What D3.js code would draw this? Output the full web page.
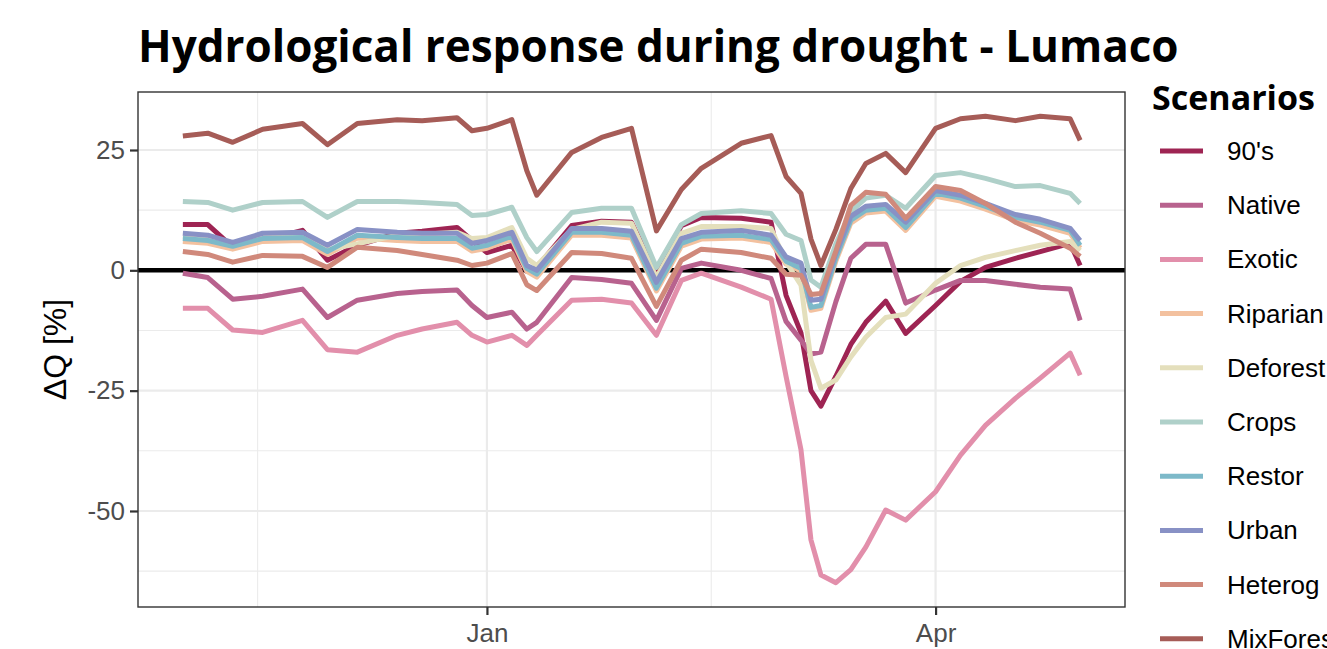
<!DOCTYPE html>
<html>
<head>
<meta charset="utf-8">
<script src="https://cdn.jsdelivr.net/npm/d3@7"></script>
<style>
  body { margin: 0; background: #fff; }
  svg { display: block; }
</style>
</head>
<body>
<svg id="chart" width="1327" height="649"></svg>
<script>
// ── data ─────────────────────────────────────────────────────────────────────
const dates = [
  '2020-11-01', '2020-11-06', '2020-11-11', '2020-11-17', '2020-11-25', '2020-11-30',
  '2020-12-06', '2020-12-14', '2020-12-19', '2020-12-26', '2020-12-29', '2021-01-01',
  '2021-01-06', '2021-01-09', '2021-01-11', '2021-01-18', '2021-01-24', '2021-01-30',
  '2021-02-04', '2021-02-09', '2021-02-13', '2021-02-21', '2021-02-27', '2021-03-02',
  '2021-03-05', '2021-03-07', '2021-03-09', '2021-03-12', '2021-03-15', '2021-03-18',
  '2021-03-22', '2021-03-26', '2021-04-01', '2021-04-06', '2021-04-11', '2021-04-17',
  '2021-04-22', '2021-04-28', '2021-04-30'
];

const scenarios = ["90's", 'Native', 'Exotic', 'Riparian', 'Deforest', 'Crops', 'Restor', 'Urban', 'Heterog', 'MixForest'];

const nineties = [9.5, 9.5, 4.8, 6.2, 8.3, 2.1, 5.2, 7.7, 8.1, 8.9, 6.2, 3.7, 5.2, -0.2, 0.6, 9.3, 10.2, 10.0, -1.0, 9.3, 11.0, 10.8, 10.0, -5.2, -13.0, -25.0, -28.2, -22.0, -15.4, -10.8, -6.4, -13.1, -7.3, -2.3, 0.6, 2.5, 3.9, 5.6, 1.0];
const native = [-0.6, -1.5, -6.0, -5.4, -3.9, -9.8, -6.2, -4.8, -4.4, -4.1, -7.3, -9.8, -8.7, -12.2, -10.8, -1.5, -1.9, -2.7, -10.4, 0.4, 1.5, 0.0, -1.7, -10.6, -14.5, -17.4, -17.0, -6.5, 2.5, 5.4, 5.4, -6.8, -4.1, -2.1, -2.1, -2.9, -3.5, -3.9, -10.4];
const exotic = [-7.9, -7.9, -12.4, -12.9, -10.4, -16.5, -17.0, -13.5, -12.2, -10.8, -13.5, -14.9, -13.5, -15.6, -13.5, -6.2, -6.0, -6.8, -13.5, -2.1, -0.6, -3.5, -6.0, -22.0, -37.3, -56.0, -63.3, -64.9, -62.2, -57.5, -49.8, -51.9, -46.0, -38.4, -32.2, -26.6, -22.4, -17.2, -21.8];
const riparian = [6.0, 5.6, 4.4, 6.0, 6.2, 3.3, 6.7, 6.2, 6.0, 6.0, 4.0, 4.6, 6.5, -0.2, -1.4, 7.3, 7.3, 6.7, -4.3, 5.0, 6.5, 6.7, 5.8, 1.3, -0.2, -8.3, -7.9, 1.9, 9.8, 11.9, 12.3, 8.3, 15.4, 14.4, 12.7, 10.4, 9.4, 7.7, 4.6];
const deforest = [7.1, 6.6, 5.4, 7.0, 7.3, 4.3, 5.5, 7.3, 7.5, 7.9, 6.6, 6.8, 8.9, 2.5, 1.0, 8.5, 10.0, 9.8, -1.5, 7.7, 9.1, 9.1, 8.7, 1.7, -3.1, -18.7, -24.5, -22.8, -18.0, -13.9, -9.8, -9.1, -2.7, 1.0, 2.7, 4.1, 5.2, 6.0, 4.1];
const crops = [14.3, 14.1, 12.5, 14.1, 14.3, 11.0, 14.3, 14.3, 14.1, 13.7, 11.4, 11.6, 13.1, 6.8, 3.9, 12.0, 12.9, 12.9, 0.6, 9.5, 11.8, 12.4, 11.8, 7.5, 6.2, -2.0, -3.5, 5.5, 12.2, 15.0, 15.6, 12.9, 19.7, 20.3, 19.1, 17.4, 17.6, 16.0, 13.9];
const restor = [6.6, 6.2, 5.0, 6.6, 6.8, 3.9, 7.3, 6.8, 6.6, 6.6, 4.6, 5.2, 7.1, 0.4, -0.8, 7.9, 7.9, 7.3, -3.7, 5.6, 7.1, 7.3, 6.4, 1.9, 0.4, -7.7, -7.3, 2.5, 10.4, 12.5, 12.9, 8.9, 16.0, 15.0, 13.3, 11.0, 10.0, 8.3, 5.2];
const urban = [7.7, 7.3, 5.8, 7.7, 7.9, 5.2, 8.5, 7.9, 7.7, 7.7, 5.6, 6.2, 7.9, 1.0, 0.0, 8.7, 8.7, 8.1, -2.5, 6.6, 7.9, 8.3, 7.3, 2.8, 1.5, -6.2, -6.0, 3.5, 11.2, 13.3, 13.7, 10.0, 16.6, 15.6, 13.9, 11.6, 10.6, 8.7, 6.2];
const heterog = [3.9, 3.3, 1.7, 3.1, 2.9, 0.6, 4.8, 4.1, 3.3, 2.1, 1.0, 1.5, 3.5, -3.0, -4.2, 3.7, 3.5, 2.5, -7.5, 2.1, 4.4, 3.7, 2.5, -0.8, -1.0, -5.0, -4.8, 4.0, 13.5, 16.2, 15.8, 10.8, 17.4, 16.6, 13.9, 10.0, 7.7, 4.6, 2.9];
const mixForest = [27.9, 28.5, 26.6, 29.3, 30.5, 26.1, 30.5, 31.3, 31.1, 31.7, 29.0, 29.5, 31.3, 20.7, 15.6, 24.5, 27.6, 29.5, 8.2, 16.8, 21.2, 26.4, 28.0, 19.5, 16.0, 6.5, 1.0, 8.5, 17.0, 22.2, 24.3, 20.3, 29.5, 31.5, 32.0, 31.1, 32.0, 31.5, 27.0];

const seriesValues = [nineties, native, exotic, riparian, deforest, crops, restor, urban, heterog, mixForest];

const yTicks = [-50, -25, 0, 25];
const yMinor = [-62.5, -37.5, -12.5, 12.5];
const xTicks = ['2021-01-01', '2021-04-01'];

// ── styling ─────────────────────────────────────────────────────────────────
const COLORS = ['#9e2453', '#b8628e', '#e28fab', '#f3c19f', '#e4dfbc', '#afd0c9', '#7db9c9', '#8891c5', '#d0897b', '#a65c57'];
const PANEL = { left: 138, right: 1125, top: 92, bottom: 607 };
const SANS = "'Liberation Sans', Arial, sans-serif";
const BOLD = "'Open Sans', 'DejaVu Sans', sans-serif";
const LINE_W = 5;

// ────────────────────────────────────────────────────────────────────────────

const parse = d3.timeParse('%Y-%m-%d');
const parsed = dates.map(parse);
const svg = d3.select('#chart');

const x = d3.scaleTime()
  .domain([d3.timeDay.offset(parsed[0], -9), d3.timeDay.offset(parsed[parsed.length - 1], 9)])
  .range([PANEL.left, PANEL.right]);

const y = d3.scaleLinear()
  .domain([-69.95, 37.05])
  .range([PANEL.bottom, PANEL.top]);

const majorX = xTicks.map(parse);
// ggplot minor breaks sit halfway between the major ones (Oct 1 / Jan 1 / Apr 1)
const allMajor = [parse('2020-10-01'), ...majorX];
const minorX = d3.pairs(allMajor, (a, b) => new Date((+a + +b) / 2));

// Grid
const grid = svg.append('g');
grid.selectAll('.ymin').data(yMinor).join('line')
  .attr('x1', PANEL.left).attr('x2', PANEL.right)
  .attr('y1', d => y(d)).attr('y2', d => y(d))
  .attr('stroke', '#ebebeb').attr('stroke-width', 1.1);
grid.selectAll('.xmin').data(minorX).join('line')
  .attr('x1', d => x(d)).attr('x2', d => x(d))
  .attr('y1', PANEL.top).attr('y2', PANEL.bottom)
  .attr('stroke', '#ebebeb').attr('stroke-width', 1.1);
grid.selectAll('.ymaj').data(yTicks).join('line')
  .attr('x1', PANEL.left).attr('x2', PANEL.right)
  .attr('y1', d => y(d)).attr('y2', d => y(d))
  .attr('stroke', '#ebebeb').attr('stroke-width', 2.2);
grid.selectAll('.xmaj').data(majorX).join('line')
  .attr('x1', d => x(d)).attr('x2', d => x(d))
  .attr('y1', PANEL.top).attr('y2', PANEL.bottom)
  .attr('stroke', '#ebebeb').attr('stroke-width', 2.2);

// Zero reference line
svg.append('line')
  .attr('x1', PANEL.left).attr('x2', PANEL.right)
  .attr('y1', y(0)).attr('y2', y(0))
  .attr('stroke', '#000').attr('stroke-width', 4.6);

// Series lines, drawn in factor order so MixForest ends up on top
const line = d3.line()
  .x((d, i) => x(parsed[i]))
  .y(d => y(d));

svg.append('g')
  .selectAll('path')
  .data(seriesValues)
  .join('path')
  .attr('d', d => line(d))
  .attr('fill', 'none')
  .attr('stroke', (d, i) => COLORS[i])
  .attr('stroke-width', LINE_W)
  .attr('stroke-linejoin', 'round')
  .attr('stroke-linecap', 'butt');

// Panel border
svg.append('rect')
  .attr('x', PANEL.left).attr('y', PANEL.top)
  .attr('width', PANEL.right - PANEL.left).attr('height', PANEL.bottom - PANEL.top)
  .attr('fill', 'none').attr('stroke', '#333333').attr('stroke-width', 1.4);

// Axes
const yAxis = svg.append('g')
  .attr('transform', `translate(${PANEL.left},0)`)
  .call(d3.axisLeft(y).tickValues(yTicks).tickFormat(d => String(d)).tickSize(8).tickPadding(5));
const xAxis = svg.append('g')
  .attr('transform', `translate(0,${PANEL.bottom})`)
  .call(d3.axisBottom(x).tickValues(majorX).tickFormat(d3.timeFormat('%b')).tickSize(8).tickPadding(9));

for (const ax of [yAxis, xAxis]) {
  ax.select('.domain').remove();
  ax.selectAll('.tick line').attr('stroke', '#333333').attr('stroke-width', 2.2);
  ax.selectAll('.tick text')
    .attr('fill', '#4d4d4d')
    .style('font-family', SANS)
    .style('font-size', '26px');
}

// Axis title
svg.append('text')
  .attr('transform', `translate(66,${(PANEL.top + PANEL.bottom) / 2}) rotate(-90)`)
  .attr('text-anchor', 'middle')
  .style('font-family', SANS)
  .style('font-size', '32px')
  .text('ΔQ [%]');

// Title
svg.append('text')
  .attr('x', PANEL.left).attr('y', 62)
  .style('font-family', BOLD)
  .style('font-weight', 700)
  .style('font-size', '44px')
  .text('Hydrological response during drought - Lumaco');

// Legend
const legend = svg.append('g');
legend.append('text')
  .attr('x', 1152).attr('y', 110)
  .style('font-family', BOLD)
  .style('font-weight', 700)
  .style('font-size', '34px')
  .text('Scenarios');

const item = legend.selectAll('.item')
  .data(scenarios)
  .join('g')
  .attr('transform', (d, i) => `translate(0,${151 + i * 54.2})`);

item.append('line')
  .attr('x1', 1160).attr('x2', 1203)
  .attr('stroke', (d, i) => COLORS[i])
  .attr('stroke-width', LINE_W);

item.append('text')
  .attr('x', 1227).attr('y', 9)
  .style('font-family', SANS)
  .style('font-size', '26px')
  .text(d => d);
</script>
</body>
</html>
